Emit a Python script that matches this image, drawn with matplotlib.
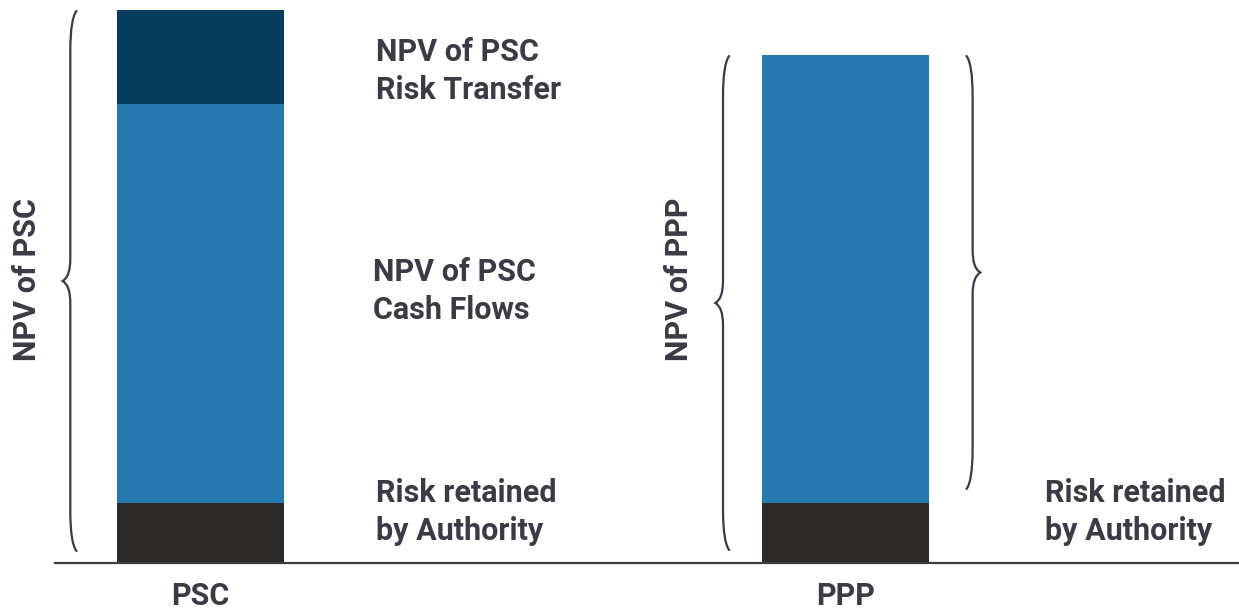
import matplotlib.pyplot as plt
from matplotlib.path import Path
from matplotlib.patches import PathPatch

plt.rcParams['font.family'] = ['Roboto', 'DejaVu Sans']

categories = ["PSC", "PPP"]
risk_retained = [60, 60]
cash_flows = [399, 448]
risk_transfer = [94, 0]

TEXT = "#3a3b44"
DARK = "#063c5c"
BLUE = "#2678ae"
BLACK = "#2d2928"


def brace(ax, x, y0, y1, side, curl=0.0095, tip=0.012):
    # side=-1: tip points left, ends curl right; side=+1 the other way
    ym = (y0 + y1) / 2
    h = 40
    h2 = 22
    pts = [
        (x - side * curl, y0),
        (x, y0 + 8), (x, y0 + h),
        (x, ym - h2),
        (x, ym - 4), (x + side * tip, ym),
        (x, ym + 4), (x, ym + h2),
        (x, y1 - h),
        (x, y1 - 8), (x - side * curl, y1),
    ]
    codes = [Path.MOVETO, Path.CURVE3, Path.CURVE3, Path.LINETO,
             Path.CURVE3, Path.CURVE3, Path.CURVE3, Path.CURVE3,
             Path.LINETO, Path.CURVE3, Path.CURVE3]
    ax.add_patch(PathPatch(Path(pts, codes), fill=False, edgecolor=TEXT, lw=1.6,
                           capstyle='round'))


fig = plt.figure(figsize=(12.39, 6.12), dpi=100)
ax = fig.add_axes([0, 49 / 612, 1, 563 / 612])

x = [0, 1]
w = 0.259
ax.bar(x, risk_retained, w, color=BLACK)
ax.bar(x, cash_flows, w, bottom=risk_retained, color=BLUE)
tops = [r + c for r, c in zip(risk_retained, cash_flows)]
ax.bar(x, risk_transfer, w, bottom=tops, color=DARK)

ax.set_xlim(-0.311, 1.610)
ax.set_ylim(0, 563)

for s in ["top", "left", "right"]:
    ax.spines[s].set_visible(False)
ax.spines["bottom"].set_color(TEXT)
ax.spines["bottom"].set_linewidth(1.6)
ax.spines["bottom"].set_bounds(-0.2256, 1.610)
ax.set_yticks([])
ax.set_xticks(x, categories)
ax.tick_params(axis='x', length=0, pad=13, labelsize=22, labelcolor=TEXT)
for lab in ax.get_xticklabels():
    lab.set_fontweight('bold')

total_psc = tops[0] + risk_transfer[0]
brace(ax, -0.202, 12, total_psc - 1, -1)
brace(ax, 1 - 0.19, 13, tops[1] - 1, -1)
brace(ax, 1 + 0.197, 74, tops[1] - 1, 1)

kw = dict(fontsize=22, fontweight='bold', color=TEXT, va='center', ha='left',
          linespacing=1.3)
fig.text(376 / 1239, 1 - 71 / 612, "NPV of PSC\nRisk Transfer", **kw)
fig.text(373 / 1239, 1 - 291 / 612, "NPV of PSC\nCash Flows", **kw)
fig.text(376 / 1239, 1 - 512 / 612, "Risk retained\nby Authority", **kw)
fig.text(1045 / 1239, 1 - 512 / 612, "Risk retained\nby Authority", **kw)

rkw = dict(fontsize=22, fontweight='bold', color=TEXT, va='center', ha='center',
           rotation=90)
fig.text(27 / 1239, 1 - 280 / 612, "NPV of PSC", **rkw)
fig.text(679 / 1239, 1 - 279 / 612, "NPV of PPP", **rkw)

fig.savefig("out.png", dpi=100)
